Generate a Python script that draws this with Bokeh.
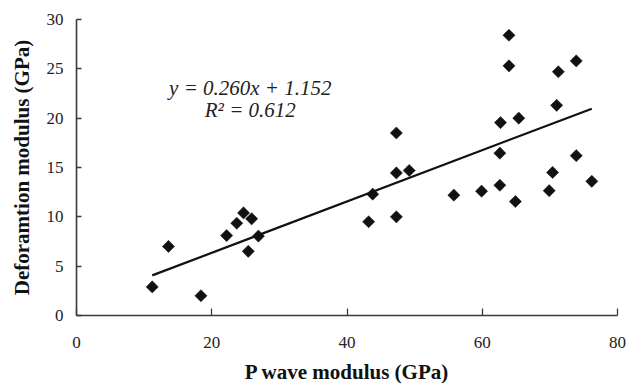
import numpy as np
from bokeh.plotting import figure
from bokeh.models import Range1d, Label, FixedTicker, ColumnDataSource
from bokeh.embed import file_html
from bokeh.resources import INLINE

# Data
p_wave = [11.2, 13.6, 18.4, 22.2, 23.7, 24.7, 25.9, 25.4, 26.9,
          43.2, 43.8, 47.3, 47.3, 47.3, 49.2, 55.8, 59.9, 62.6, 62.6,
          62.7, 63.95, 63.95, 64.9, 65.4, 69.9, 70.4, 71.0, 71.25,
          73.9, 73.9, 76.2]
deformation = [2.9, 7.0, 2.0, 8.1, 9.35, 10.4, 9.8, 6.5, 8.05,
               9.5, 12.3, 10.0, 14.45, 18.5, 14.7, 12.2, 12.6, 13.2, 16.45,
               19.55, 25.3, 28.4, 11.55, 20.0, 12.65, 14.5, 21.3, 24.7,
               16.2, 25.8, 13.6]
slope = 0.260
intercept = 1.152
r_squared = 0.612
x_ticks = [0, 20, 40, 60, 80]
y_ticks = [0, 5, 10, 15, 20, 25, 30]

FONT = "Liberation Serif"

p = figure(width=627, height=392, output_backend="svg", toolbar_location=None,
           x_range=Range1d(0, 80), y_range=Range1d(0, 30),
           min_border_left=76, min_border_right=10,
           min_border_top=19, min_border_bottom=77)
p.outline_line_color = None
p.grid.visible = False
p.background_fill_color = "white"
p.border_fill_color = "white"

# regression line from the fit equation over the data span
xl = [min(p_wave), max(p_wave)]
yl = [slope * v + intercept for v in xl]
p.line(xl, yl, line_color="#111111", line_width=2.2)

src = ColumnDataSource(dict(x=p_wave, y=deformation))
p.scatter("x", "y", source=src, marker="square", size=8.6, angle=np.pi / 4,
          fill_color="#111111", line_color="#111111", line_width=0.5)

for ax in (p.xaxis[0], p.yaxis[0]):
    ax.axis_line_color = "#3a3a3a"
    ax.axis_line_width = 1.6
    ax.major_tick_line_color = "#3a3a3a"
    ax.major_tick_line_width = 1.3
    ax.major_tick_out = 0
    ax.minor_tick_in = 0
    ax.minor_tick_out = 0
    ax.major_label_text_font = FONT
    ax.major_label_text_font_size = "17px"
    ax.major_label_text_color = "#222222"
    ax.axis_label_text_font = FONT
    ax.axis_label_text_font_style = "bold"
    ax.axis_label_text_font_size = "21px"
    ax.axis_label_text_color = "#111111"

p.xaxis.ticker = FixedTicker(ticks=x_ticks)
p.yaxis.ticker = FixedTicker(ticks=y_ticks)
p.xaxis.major_tick_in = 7
p.yaxis.major_tick_in = 5
p.xaxis.major_label_standoff = 21
p.yaxis.major_label_standoff = 13
p.xaxis.axis_label = "P wave modulus (GPa)"
p.yaxis.axis_label = "Deforamtion modulus (GPa)"
p.xaxis.axis_label_standoff = 9
p.yaxis.axis_label_standoff = 10

eq1 = Label(x=25.7, y=23.1, text=f"y = {slope:.3f}x + {intercept:.3f}",
            text_font=FONT, text_font_style="italic", text_font_size="21px",
            text_align="center", text_baseline="alphabetic", text_color="#222222")
eq2 = Label(x=25.7, y=20.8, text=f"R² = {r_squared:.3f}",
            text_font=FONT, text_font_style="italic", text_font_size="21px",
            text_align="center", text_baseline="alphabetic", text_color="#222222")
p.add_layout(eq1)
p.add_layout(eq2)

open("out.html", "w").write(file_html(p, INLINE))
